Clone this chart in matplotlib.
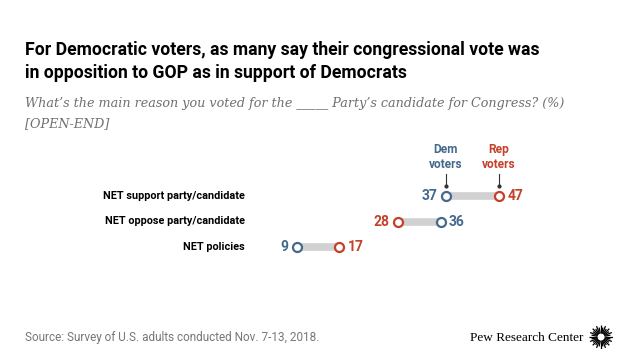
import numpy as np
import matplotlib.pyplot as plt

# data
categories = ['NET support party/candidate', 'NET oppose party/candidate', 'NET policies']
dem_values = [37, 36, 9]
rep_values = [47, 28, 17]

dem_color = '#45698c'
rep_color = '#c4402a'
bar_color = '#d1d1d1'

W, H = 640, 360
fig = plt.figure(figsize=(6.4, 3.6), dpi=100)
fig.patch.set_facecolor('white')

def px(x, y):
    # pixel position (from top left) -> figure fraction
    return x / W, 1 - y / H

# one axes over the whole figure; data scale chosen so values land where the reference has them
ax = fig.add_axes([0, 0, 1, 1])
ax.set_xlim(-249 / 5.32, (W - 249) / 5.32)
ax.set_ylim((H - 196) / 25.5, -196 / 25.5)
ax.axis('off')

sans = ['Roboto', 'DejaVu Sans']
for i, (d, r) in enumerate(zip(dem_values, rep_values)):
    lo, hi = min(d, r), max(d, r)
    ax.plot([lo, hi], [i, i], color=bar_color, lw=5.5, solid_capstyle='butt', zorder=1)
    ax.plot(d, i, 'o', ms=6.5, mfc='white', mec=dem_color, mew=1.6, zorder=3)
    ax.plot(r, i, 'o', ms=6.5, mfc='white', mec=rep_color, mew=1.6, zorder=3)
    # value labels: left of smaller, right of bigger
    left_col = dem_color if d < r else rep_color
    right_col = rep_color if d < r else dem_color
    ax.text(lo - 1.6, i, str(lo), ha='right', va='center', fontsize=10,
            fontweight='bold', color=left_col, family=sans)
    ax.text(hi + 1.6, i, str(hi), ha='left', va='center',
            fontsize=10, fontweight='bold', color=right_col, family=sans)
    ax.text(-0.8, i, categories[i], ha='right', va='center', fontsize=7.8,
            fontweight='bold', color='black', family=sans)

# Dem / Rep voters call-outs above the first row
for val, lab, col in [(dem_values[0], 'Dem\nvoters', dem_color), (rep_values[0], 'Rep\nvoters', rep_color)]:
    ax.text(val, -1.53, lab, ha='center', va='center', fontsize=8.6, fontweight='bold',
            color=col, linespacing=1.25, family=sans)
    ax.plot([val, val], [-0.85, -0.38], color='#333333', lw=0.8)
    ax.plot(val, -0.38, marker='o', ms=2, color='#333333')

fig.text(*px(25, 50), 'For Democratic voters, as many say their congressional vote was',
         fontsize=12.7, fontweight='bold', family=sans, va='center', ha='left')
fig.text(*px(25, 73), 'in opposition to GOP as in support of Democrats',
         fontsize=12.7, fontweight='bold', family=sans, va='center', ha='left')

sub_font = ['DejaVu Serif']
fig.text(*px(25, 104), 'What\u2019s the main reason you voted for the _____ Party\u2019s candidate for Congress? (%)',
         fontsize=9.2, style='italic', family=sub_font, color='#707070', va='center')
fig.text(*px(25, 124), '[OPEN-END]', fontsize=9.2, style='italic', family=sub_font,
         color='#707070', va='center')

fig.text(*px(25, 338), 'Source: Survey of U.S. adults conducted Nov. 7-13, 2018.',
         fontsize=8.5, color='#777777', va='center', family=sans)
fig.text(*px(583, 338), 'Pew Research Center', fontsize=9.5, family=['Liberation Serif'],
         color='black', va='center', ha='right')

# sunburst logo
cx, cy = 601, 337
logo = fig.add_axes([(cx - 12) / W, 1 - (cy + 12) / H, 24 / W, 24 / H])
logo.set_xlim(-1, 1)
logo.set_ylim(-1, 1)
logo.axis('off')
for k, a in enumerate(np.linspace(0, 2 * np.pi, 32, endpoint=False)):
    r0 = 0.3
    r1 = 0.98 if k % 2 == 0 else 0.8
    logo.plot([r0 * np.cos(a), r1 * np.cos(a)], [r0 * np.sin(a), r1 * np.sin(a)],
              color='black', lw=0.9, solid_capstyle='butt')

fig.savefig('out.png', dpi=100)
